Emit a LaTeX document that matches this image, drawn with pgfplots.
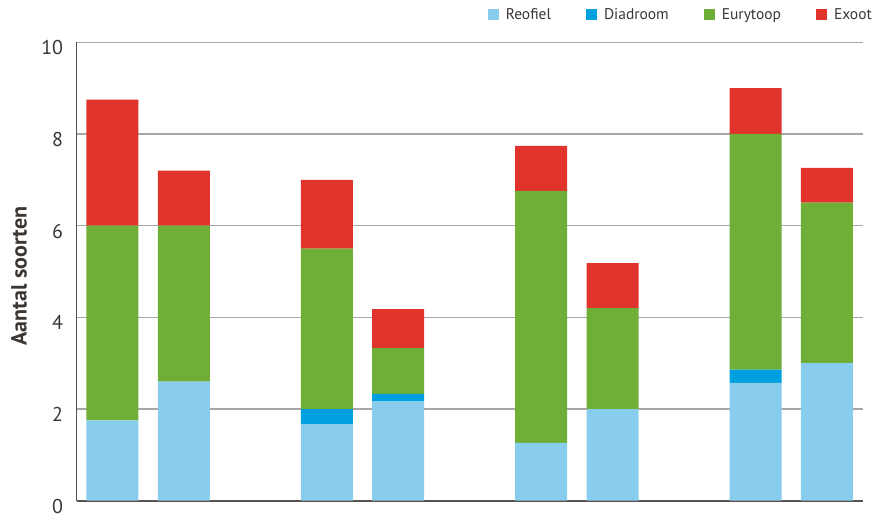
\documentclass[border=0pt]{standalone}
\usepackage{fontspec}
\setmainfont{PT Sans}
\usepackage{pgfplots}
\usepackage{pgfplotstable}
\pgfplotsset{compat=1.18}
\definecolor{reofiel}{RGB}{137,205,238}
\definecolor{diadroom}{RGB}{0,159,223}
\definecolor{eurytoop}{RGB}{111,174,55}
\definecolor{exoot}{RGB}{224,51,44}
\definecolor{txt}{RGB}{60,54,50}
\definecolor{axisline}{RGB}{90,82,76}
\definecolor{gridc}{RGB}{166,166,166}

% x: bar position, R/D/E/X: segment heights (Reofiel, Diadroom, Eurytoop, Exoot)
\pgfplotstableread{
x  R    D    E    X
0  1.75 0    4.25 2.75
1  2.60 0    3.40 1.20
3  1.67 0.33 3.50 1.50
4  2.17 0.16 1.00 0.85
6  1.26 0    5.50 0.98
7  2.00 0    2.20 0.98
9  2.57 0.29 5.14 1.00
10 3.00 0    3.50 0.76
}\data

\begin{document}
\begin{tikzpicture}
\path[use as bounding box] (-76.7bp,-15.3bp) rectangle (796.3bp,500.7bp);
\begin{axis}[
    at={(0,0)}, anchor=south west,
    scale only axis,
    width=786bp, height=458.4bp,
    ybar stacked, bar width=52bp,
    xmin=-0.5, xmax=10.5,
    ymin=0, ymax=10,
    xtick=\empty,
    ytick={0,2,4,6,8,10},
    major tick length=0pt,
    axis x line*=bottom, axis y line*=left,
    x axis line style={-, color=axisline, line width=2bp},
    y axis line style={-, color=axisline, line width=1.5bp},
    ymajorgrids,
    grid style={color=gridc, line width=1.3bp},
    /pgf/number format/assume math mode=true,
    yticklabel style={font=\fontsize{20bp}{23bp}\selectfont, text=txt,
        anchor=east, inner sep=0pt, xshift=-13.4bp, yshift=-5.5bp},
    ylabel={Aantal soorten},
    ylabel style={font=\fontsize{22bp}{25bp}\selectfont\bfseries, text=txt,
        at={(axis description cs:-0.0735,0.490)}, anchor=center},
    legend columns=4,
    legend style={at={(rel axis cs:1.0144,1.0596)}, anchor=east,
        draw=none, fill=none, inner sep=0pt, text=txt,
        font=\fontsize{15.5bp}{18bp}\selectfont,
        /tikz/every even column/.append style={column sep=33bp},
        /tikz/every odd column/.append style={column sep=5bp}},
    legend image code/.code={\fill[#1] (0bp,-5.5bp) rectangle (11bp,5.5bp);},
]
\addplot[fill=reofiel, draw=none] table[x=x, y=R]{\data};
\addlegendentry{Reofiel}
\addplot[fill=diadroom, draw=none] table[x=x, y=D]{\data};
\addlegendentry{Diadroom}
\addplot[fill=eurytoop, draw=none] table[x=x, y=E]{\data};
\addlegendentry{Eurytoop}
\addplot[fill=exoot, draw=none] table[x=x, y=X]{\data};
\addlegendentry{Exoot}
\end{axis}
\end{tikzpicture}
\end{document}
